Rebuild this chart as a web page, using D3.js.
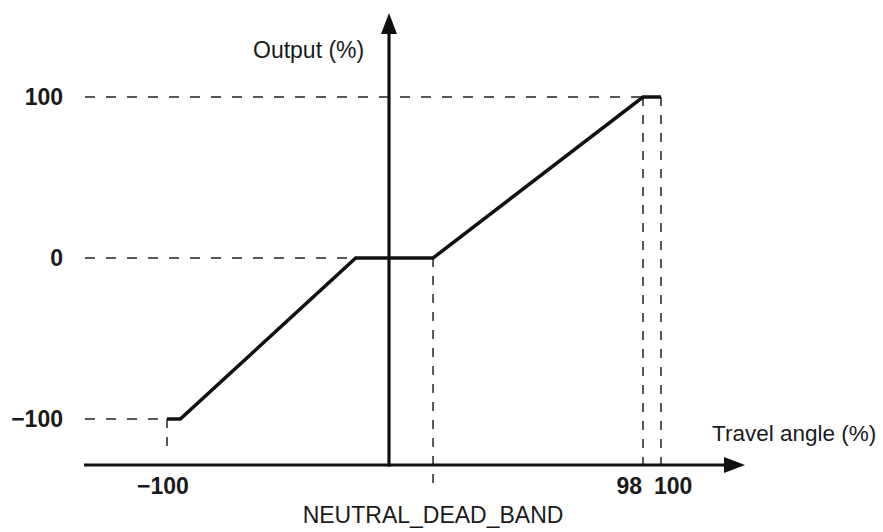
<!DOCTYPE html>
<html>
<head>
<meta charset="utf-8">
<script src="https://cdn.jsdelivr.net/npm/d3@7"></script>
<style>
  body { margin: 0; background: #fff; }
  svg { display: block; }
</style>
</head>
<body>
<svg id="chart" width="883" height="532"></svg>
<script>
// Characteristic curve (travel angle % -> output %)
const travel = [-100, -94, -15, 17, 98, 100];
const output = [-100, -100, 0, 0, 100, 100];

// Labelled values
const yTicks = [100, 0, -100];
const xTicks = [-100, 98, 100];
const deadBandEnd = 17;

const svg = d3.select("#chart");
const fontReg = "'Liberation Sans', Arial, sans-serif";
const fontBold = "'Liberation Sans Narrow', 'Liberation Sans', Arial, sans-serif";

// schematic (non uniform) horizontal scale, like the drawing
const x = d3.scaleLinear()
  .domain([-100, 0, 98, 100])
  .range([167, 389, 643, 661]);

const y = d3.scaleLinear()
  .domain([-100, 100])
  .range([419, 97]);

const axisY = 465;        // position of the travel axis
const axisLeft = 84, axisRight = 745;
const axisTop = 13;

const pts = travel.map((t, i) => ({t: t, o: output[i]}));

// dashed guide lines
const g = svg.append("g")
  .attr("stroke", "#222")
  .attr("stroke-width", 1.5)
  .attr("stroke-dasharray", "10,11")
  .attr("fill", "none");

// horizontal guides to the left edge
g.append("line").attr("x1", axisLeft + 1).attr("x2", x(98)).attr("y1", y(100)).attr("y2", y(100));
g.append("line").attr("x1", axisLeft + 1).attr("x2", x(-15) - 3).attr("y1", y(0)).attr("y2", y(0));
g.append("line").attr("x1", axisLeft + 1).attr("x2", x(-100)).attr("y1", y(-100)).attr("y2", y(-100));

// vertical guides
const gv = svg.append("g")
  .attr("stroke", "#222")
  .attr("stroke-width", 1.5)
  .attr("stroke-dasharray", "9,9")
  .attr("fill", "none");
gv.append("line").attr("x1", x(-100)).attr("x2", x(-100)).attr("y1", y(-100)).attr("y2", axisY - 10);
gv.append("line").attr("x1", x(deadBandEnd)).attr("x2", x(deadBandEnd)).attr("y1", y(0)).attr("y2", axisY + 26);
gv.append("line").attr("x1", x(98)).attr("x2", x(98)).attr("y1", y(100)).attr("y2", axisY);
gv.append("line").attr("x1", x(100)).attr("x2", x(100)).attr("y1", y(100)).attr("y2", axisY);

// axes
svg.append("line")
  .attr("x1", axisLeft).attr("x2", axisRight - 18)
  .attr("y1", axisY).attr("y2", axisY)
  .attr("stroke", "#111").attr("stroke-width", 3.2);
svg.append("path")
  .attr("d", `M${axisRight},${axisY} L${axisRight - 21},${axisY - 8} L${axisRight - 21},${axisY + 8} Z`)
  .attr("fill", "#111");

svg.append("line")
  .attr("x1", x(0)).attr("x2", x(0))
  .attr("y1", axisY + 1.5).attr("y2", axisTop + 18)
  .attr("stroke", "#111").attr("stroke-width", 3.2);
svg.append("path")
  .attr("d", `M${x(0)},${axisTop} L${x(0) - 8},${axisTop + 21} L${x(0) + 8},${axisTop + 21} Z`)
  .attr("fill", "#111");

// curve
svg.append("path")
  .datum(pts)
  .attr("d", d3.line().x(d => x(d.t)).y(d => y(d.o)))
  .attr("fill", "none")
  .attr("stroke", "#111")
  .attr("stroke-width", 3.5)
  .attr("stroke-linejoin", "miter");

// tick labels
svg.selectAll("text.ytick")
  .data(yTicks)
  .enter().append("text")
    .attr("class", "ytick")
    .attr("x", 63)
    .attr("y", d => y(d) + 8)
    .attr("text-anchor", "end")
    .style("font-family", fontBold)
    .style("font-weight", "bold")
    .style("font-size", "23px")
    .style("fill", "#1a1a1a")
    .text(d => d < 0 ? "\u2212" + Math.abs(d) : d);

const xAnchor = {"-100": "middle", "98": "end", "100": "start"};
const xShift = {"-100": -4, "98": -1, "100": -7};
svg.selectAll("text.xtick")
  .data(xTicks)
  .enter().append("text")
    .attr("class", "xtick")
    .attr("x", d => x(d) + xShift[d])
    .attr("y", 494)
    .attr("text-anchor", d => xAnchor[d])
    .style("font-family", fontBold)
    .style("font-weight", "bold")
    .style("font-size", "23px")
    .style("fill", "#1a1a1a")
    .text(d => d < 0 ? "\u2212" + Math.abs(d) : d);

// axis titles
svg.append("text")
  .attr("x", 253).attr("y", 58)
  .style("font-family", fontReg).style("font-size", "23px").style("fill", "#1a1a1a")
  .text("Output (%)");

svg.append("text")
  .attr("x", 712).attr("y", 441)
  .style("font-family", fontReg).style("font-size", "22.5px").style("fill", "#1a1a1a")
  .text("Travel angle (%)");

svg.append("text")
  .attr("x", x(deadBandEnd)).attr("y", 523)
  .attr("text-anchor", "middle")
  .style("font-family", fontReg).style("font-size", "23px").style("fill", "#1a1a1a")
  .text("NEUTRAL_DEAD_BAND");
</script>
</body>
</html>
